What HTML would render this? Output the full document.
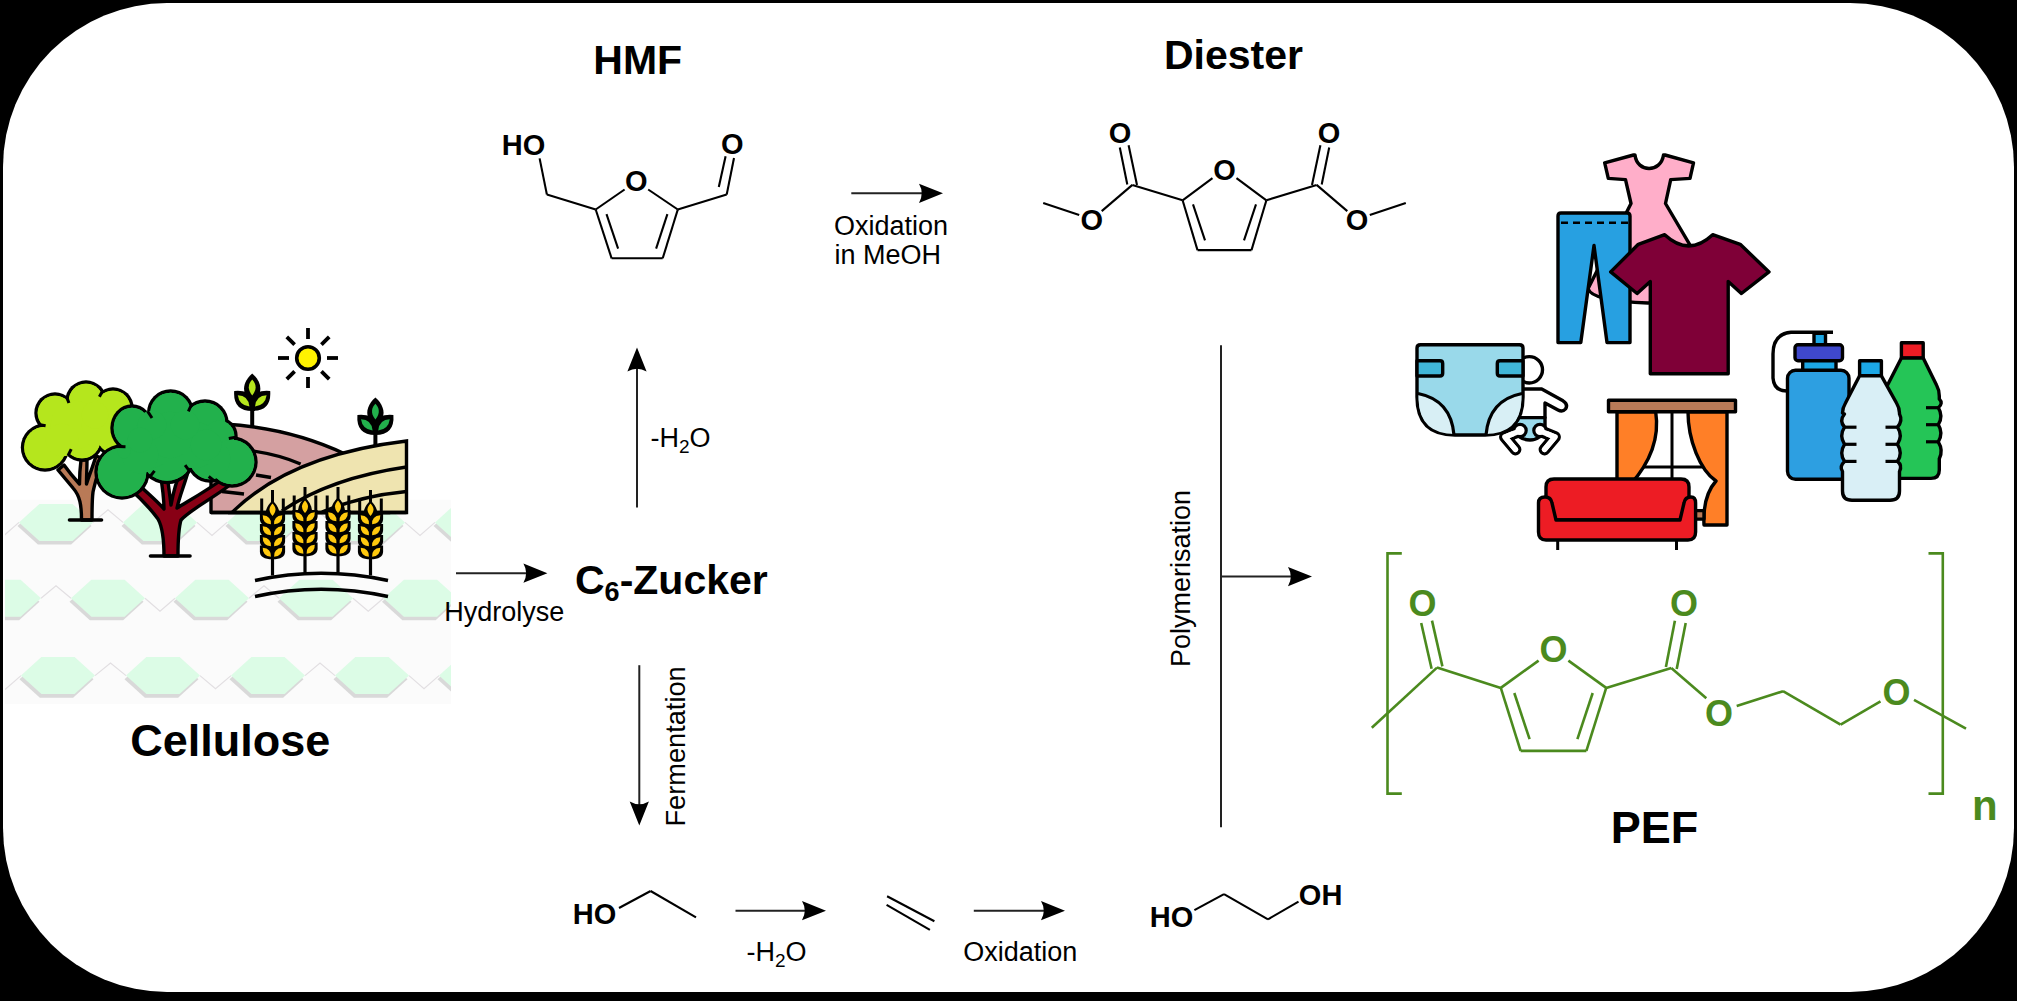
<!DOCTYPE html>
<html><head><meta charset="utf-8"><title>PEF</title>
<style>
html,body{margin:0;padding:0;background:#000;width:2017px;height:1001px;overflow:hidden}
svg{display:block}
text{font-family:"Liberation Sans",sans-serif}
</style></head><body>
<svg width="2017" height="1001" viewBox="0 0 2017 1001">
<rect width="2017" height="1001" fill="#000"/>
<rect x="3" y="3" width="2011" height="989" rx="164" ry="164" fill="#fff"/>
<clipPath id="hc"><rect x="5" y="499.5" width="446" height="204.5"/></clipPath>
<g clip-path="url(#hc)">
<rect x="5" y="499.5" width="446" height="204.5" fill="#fbfbfb"/>
<polyline points="93,522.4 108.0,509.9 123,522.4" fill="none" stroke="#e2dfe2" stroke-width="1.2"/>
<polyline points="197,522.4 212.0,535.4 227,522.4" fill="none" stroke="#e2dfe2" stroke-width="1.2"/>
<polyline points="301,522.4 316.0,509.9 331,522.4" fill="none" stroke="#e2dfe2" stroke-width="1.2"/>
<polyline points="405,522.4 420.0,535.4 435,522.4" fill="none" stroke="#e2dfe2" stroke-width="1.2"/>
<line x1="19" y1="522.4" x2="3" y2="536.4" stroke="#e2dfe2" stroke-width="1.2"/>
<polyline points="41,598.2 56.0,585.7 71,598.2" fill="none" stroke="#e2dfe2" stroke-width="1.2"/>
<polyline points="145,598.2 160.0,611.2 175,598.2" fill="none" stroke="#e2dfe2" stroke-width="1.2"/>
<polyline points="249,598.2 264.0,585.7 279,598.2" fill="none" stroke="#e2dfe2" stroke-width="1.2"/>
<polyline points="353,598.2 368.25,611.2 383.5,598.2" fill="none" stroke="#e2dfe2" stroke-width="1.2"/>
<polyline points="95,675.6 110.5,663.1 126,675.6" fill="none" stroke="#e2dfe2" stroke-width="1.2"/>
<polyline points="200,675.6 215.5,688.6 231,675.6" fill="none" stroke="#e2dfe2" stroke-width="1.2"/>
<polyline points="305,675.6 320.0,663.1 335,675.6" fill="none" stroke="#e2dfe2" stroke-width="1.2"/>
<polyline points="409,675.6 424.0,688.6 439,675.6" fill="none" stroke="#e2dfe2" stroke-width="1.2"/>
<line x1="21" y1="675.6" x2="5" y2="689.6" stroke="#e2dfe2" stroke-width="1.2"/>
<polygon points="17.5,526.0 37.9,507.5 71.1,507.5 91.5,526.0 71.1,544.5 37.9,544.5" fill="#d9d9d9"/>
<polygon points="121.5,526.0 141.9,507.5 175.1,507.5 195.5,526.0 175.1,544.5 141.9,544.5" fill="#d9d9d9"/>
<polygon points="225.5,526.0 245.9,507.5 279.1,507.5 299.5,526.0 279.1,544.5 245.9,544.5" fill="#d9d9d9"/>
<polygon points="329.5,526.0 349.9,507.5 383.1,507.5 403.5,526.0 383.1,544.5 349.9,544.5" fill="#d9d9d9"/>
<polygon points="433.5,526.0 453.9,507.5 487.1,507.5 507.5,526.0 487.1,544.5 453.9,544.5" fill="#d9d9d9"/>
<polygon points="19.0,522.4 39.4,503.9 72.6,503.9 93.0,522.4 72.6,540.9 39.4,540.9" fill="#dcfce6"/>
<polygon points="123.0,522.4 143.4,503.9 176.6,503.9 197.0,522.4 176.6,540.9 143.4,540.9" fill="#dcfce6"/>
<polygon points="227.0,522.4 247.4,503.9 280.6,503.9 301.0,522.4 280.6,540.9 247.4,540.9" fill="#dcfce6"/>
<polygon points="331.0,522.4 351.4,503.9 384.6,503.9 405.0,522.4 384.6,540.9 351.4,540.9" fill="#dcfce6"/>
<polygon points="435.0,522.4 455.4,503.9 488.6,503.9 509.0,522.4 488.6,540.9 455.4,540.9" fill="#dcfce6"/>
<polygon points="-34.5,601.8 -14.1,583.3 19.1,583.3 39.5,601.8 19.1,620.3 -14.1,620.3" fill="#d9d9d9"/>
<polygon points="69.5,601.8 89.9,583.3 123.1,583.3 143.5,601.8 123.1,620.3 89.9,620.3" fill="#d9d9d9"/>
<polygon points="173.5,601.8 193.9,583.3 227.1,583.3 247.5,601.8 227.1,620.3 193.9,620.3" fill="#d9d9d9"/>
<polygon points="277.5,601.8 297.9,583.3 331.1,583.3 351.5,601.8 331.1,620.3 297.9,620.3" fill="#d9d9d9"/>
<polygon points="382.0,601.8 402.4,583.3 435.6,583.3 456.0,601.8 435.6,620.3 402.4,620.3" fill="#d9d9d9"/>
<polygon points="-33.0,598.2 -12.6,579.7 20.6,579.7 41.0,598.2 20.6,616.7 -12.6,616.7" fill="#dcfce6"/>
<polygon points="71.0,598.2 91.4,579.7 124.6,579.7 145.0,598.2 124.6,616.7 91.4,616.7" fill="#dcfce6"/>
<polygon points="175.0,598.2 195.4,579.7 228.6,579.7 249.0,598.2 228.6,616.7 195.4,616.7" fill="#dcfce6"/>
<polygon points="279.0,598.2 299.4,579.7 332.6,579.7 353.0,598.2 332.6,616.7 299.4,616.7" fill="#dcfce6"/>
<polygon points="383.5,598.2 403.9,579.7 437.1,579.7 457.5,598.2 437.1,616.7 403.9,616.7" fill="#dcfce6"/>
<polygon points="19.5,679.2 39.9,660.7 73.1,660.7 93.5,679.2 73.1,697.7 39.9,697.7" fill="#d9d9d9"/>
<polygon points="124.5,679.2 144.9,660.7 178.1,660.7 198.5,679.2 178.1,697.7 144.9,697.7" fill="#d9d9d9"/>
<polygon points="229.5,679.2 249.9,660.7 283.1,660.7 303.5,679.2 283.1,697.7 249.9,697.7" fill="#d9d9d9"/>
<polygon points="333.5,679.2 353.9,660.7 387.1,660.7 407.5,679.2 387.1,697.7 353.9,697.7" fill="#d9d9d9"/>
<polygon points="437.5,679.2 457.9,660.7 491.1,660.7 511.5,679.2 491.1,697.7 457.9,697.7" fill="#d9d9d9"/>
<polygon points="21.0,675.6 41.4,657.1 74.6,657.1 95.0,675.6 74.6,694.1 41.4,694.1" fill="#dcfce6"/>
<polygon points="126.0,675.6 146.4,657.1 179.6,657.1 200.0,675.6 179.6,694.1 146.4,694.1" fill="#dcfce6"/>
<polygon points="231.0,675.6 251.4,657.1 284.6,657.1 305.0,675.6 284.6,694.1 251.4,694.1" fill="#dcfce6"/>
<polygon points="335.0,675.6 355.4,657.1 388.6,657.1 409.0,675.6 388.6,694.1 355.4,694.1" fill="#dcfce6"/>
<polygon points="439.0,675.6 459.4,657.1 492.6,657.1 513.0,675.6 492.6,694.1 459.4,694.1" fill="#dcfce6"/>
</g>
<circle cx="308" cy="358" r="11.3" fill="#fff200" stroke="#000" stroke-width="3.6"/>
<line x1="327.0" y1="358.0" x2="338.0" y2="358.0" stroke="#000" stroke-width="3.8" stroke-linecap="butt"/>
<line x1="321.4" y1="371.4" x2="329.2" y2="379.2" stroke="#000" stroke-width="3.8" stroke-linecap="butt"/>
<line x1="308.0" y1="377.0" x2="308.0" y2="388.0" stroke="#000" stroke-width="3.8" stroke-linecap="butt"/>
<line x1="294.6" y1="371.4" x2="286.8" y2="379.2" stroke="#000" stroke-width="3.8" stroke-linecap="butt"/>
<line x1="289.0" y1="358.0" x2="278.0" y2="358.0" stroke="#000" stroke-width="3.8" stroke-linecap="butt"/>
<line x1="294.6" y1="344.6" x2="286.8" y2="336.8" stroke="#000" stroke-width="3.8" stroke-linecap="butt"/>
<line x1="308.0" y1="339.0" x2="308.0" y2="328.0" stroke="#000" stroke-width="3.8" stroke-linecap="butt"/>
<line x1="321.4" y1="344.6" x2="329.2" y2="336.8" stroke="#000" stroke-width="3.8" stroke-linecap="butt"/>
<line x1="252.2" y1="403.4" x2="252.2" y2="426.0" stroke="#000" stroke-width="4" stroke-linecap="butt"/>
<path d="M252.2,373.4 C259.2,379.4 262.2,387.4 259.2,394.4 L245.2,394.4 C242.2,387.4 245.2,379.4 252.2,373.4 Z" fill="#000"/>
<path d="M234.2,390.9 Q242.2,390.2 247.2,392.4 L257.2,392.4 Q262.2,390.2 270.2,390.9 Q271.7,410.9 252.2,410.9 Q232.7,410.9 234.2,390.9 Z" fill="#000"/>
<path d="M252.2,379.59999999999997 C255.7,383.4 257.7,388.4 252.2,395.4 C246.7,388.4 248.7,383.4 252.2,379.59999999999997 Z" fill="#b5e61d"/>
<path d="M237.79999999999998,395.2 Q248.2,395.4 249.39999999999998,406.4 Q239.2,405.4 237.79999999999998,395.2 Z" fill="#b5e61d"/>
<path d="M266.59999999999997,395.2 Q256.2,395.4 255.0,406.4 Q265.2,405.4 266.59999999999997,395.2 Z" fill="#b5e61d"/>
<line x1="375.4" y1="427.5" x2="375.4" y2="446.0" stroke="#000" stroke-width="4" stroke-linecap="butt"/>
<path d="M375.4,397.5 C382.4,403.5 385.4,411.5 382.4,418.5 L368.4,418.5 C365.4,411.5 368.4,403.5 375.4,397.5 Z" fill="#000"/>
<path d="M357.4,415.0 Q365.4,414.3 370.4,416.5 L380.4,416.5 Q385.4,414.3 393.4,415.0 Q394.9,435.0 375.4,435.0 Q355.9,435.0 357.4,415.0 Z" fill="#000"/>
<path d="M375.4,403.7 C378.9,407.5 380.9,412.5 375.4,419.5 C369.9,412.5 371.9,407.5 375.4,403.7 Z" fill="#22b14c"/>
<path d="M361.0,419.3 Q371.4,419.5 372.59999999999997,430.5 Q362.4,429.5 361.0,419.3 Z" fill="#22b14c"/>
<path d="M389.79999999999995,419.3 Q379.4,419.5 378.2,430.5 Q388.4,429.5 389.79999999999995,419.3 Z" fill="#22b14c"/>
<path d="M211,512.5 L211,434 Q211,424 224,424 Q290,428 345,454 L390,480 L390,512.5 Z" fill="#d4a0a1" stroke="#000" stroke-width="3.4" stroke-linejoin="round"/>
<path d="M253,451 Q280,455 300.6,464" fill="none" stroke="#000" stroke-width="3.4"/>
<path d="M256,475 L271,477.5" fill="none" stroke="#000" stroke-width="3.4"/>
<path d="M222,491.5 L244,494" fill="none" stroke="#000" stroke-width="3.4"/>
<path d="M232,512.5 Q290,455 406.5,441 L406.5,512.5 Z" fill="#efe4b0" stroke="#000" stroke-width="3.4" stroke-linejoin="miter"/>
<path d="M282,511 Q330,478 406.5,467" fill="none" stroke="#000" stroke-width="3.4"/>
<path d="M322,512 Q360,496 406.5,491.5" fill="none" stroke="#000" stroke-width="3.4"/>
<line x1="211.0" y1="512.5" x2="406.5" y2="512.5" stroke="#000" stroke-width="3.4" stroke-linecap="butt"/>
<path d="M81.5,520 C81.5,505 80,496 73,488 C68,482 63,476 58,470 L64,465 C69,472 74,478 79.5,484 C79.5,476 80,468 81,460 L87,460 C87,468 86.5,476 86.5,484 C89,476 93,466 96,456 L102,458 C99,470 95,482 93,492 C92,500 92,510 92,520 Z" fill="#b97a57" stroke="#000" stroke-width="3.4" stroke-linejoin="round"/>
<line x1="69.5" y1="520.0" x2="101.5" y2="520.0" stroke="#000" stroke-width="3.6" stroke-linecap="round"/>
<ellipse cx="86" cy="401" rx="20.7" ry="20.7" fill="#000"/>
<ellipse cx="55" cy="413" rx="20.7" ry="20.7" fill="#000"/>
<ellipse cx="113" cy="408" rx="20.7" ry="20.7" fill="#000"/>
<ellipse cx="45" cy="447.5" rx="24.2" ry="24.2" fill="#000"/>
<ellipse cx="82" cy="440" rx="21.7" ry="21.7" fill="#000"/>
<ellipse cx="115" cy="435" rx="21.7" ry="21.7" fill="#000"/>
<ellipse cx="86" cy="401" rx="17.3" ry="17.3" fill="#b5e61d"/>
<ellipse cx="55" cy="413" rx="17.3" ry="17.3" fill="#b5e61d"/>
<ellipse cx="113" cy="408" rx="17.3" ry="17.3" fill="#b5e61d"/>
<ellipse cx="45" cy="447.5" rx="20.8" ry="20.8" fill="#b5e61d"/>
<ellipse cx="82" cy="440" rx="18.3" ry="18.3" fill="#b5e61d"/>
<ellipse cx="115" cy="435" rx="18.3" ry="18.3" fill="#b5e61d"/>
<ellipse cx="75" cy="425" rx="24.3" ry="24.3" fill="#b5e61d"/>
<ellipse cx="100" cy="425" rx="18.3" ry="18.3" fill="#b5e61d"/>
<ellipse cx="62" cy="440" rx="16.3" ry="16.3" fill="#b5e61d"/>
<ellipse cx="95" cy="415" rx="13.3" ry="13.3" fill="#b5e61d"/>
<ellipse cx="86" cy="401" rx="17.3" ry="17.3" fill="#b5e61d"/>
<ellipse cx="55" cy="413" rx="17.3" ry="17.3" fill="#b5e61d"/>
<ellipse cx="113" cy="408" rx="17.3" ry="17.3" fill="#b5e61d"/>
<ellipse cx="45" cy="447.5" rx="20.8" ry="20.8" fill="#b5e61d"/>
<ellipse cx="82" cy="440" rx="18.3" ry="18.3" fill="#b5e61d"/>
<ellipse cx="115" cy="435" rx="18.3" ry="18.3" fill="#b5e61d"/>
<ellipse cx="75" cy="425" rx="24.3" ry="24.3" fill="#b5e61d"/>
<ellipse cx="100" cy="425" rx="18.3" ry="18.3" fill="#b5e61d"/>
<ellipse cx="62" cy="440" rx="16.3" ry="16.3" fill="#b5e61d"/>
<ellipse cx="95" cy="415" rx="13.3" ry="13.3" fill="#b5e61d"/>
<line x1="38.7" y1="424.6" x2="45.6" y2="425.8" stroke="#000" stroke-width="3" stroke-linecap="butt"/>
<line x1="66.4" y1="396.4" x2="68.9" y2="403.0" stroke="#000" stroke-width="3" stroke-linecap="butt"/>
<line x1="68.1" y1="455.3" x2="71.2" y2="449.1" stroke="#000" stroke-width="3" stroke-linecap="butt"/>
<line x1="102.8" y1="390.6" x2="99.4" y2="396.7" stroke="#000" stroke-width="3" stroke-linecap="butt"/>
<path d="M164,556 C164,540 163,528 158,519 C150,508 140,498 130,489 L136,482 C146,492 156,500 164,509 C164,496 162,484 160,472 L167,472 C168,484 170,496 171,505 C173,494 176,482 181,470 L188,472 C184,486 179,498 177,508 C190,500 208,490 224,478 L230,485 C210,500 190,510 181,520 C178,530 178,542 178,556 Z" fill="#880015" stroke="#000" stroke-width="3.4" stroke-linejoin="round"/>
<line x1="150.5" y1="556.0" x2="190.0" y2="556.0" stroke="#000" stroke-width="3.6" stroke-linecap="round"/>
<ellipse cx="170.6" cy="413" rx="23.7" ry="23.7" fill="#000"/>
<ellipse cx="132" cy="428" rx="21.7" ry="23.7" fill="#000"/>
<ellipse cx="205" cy="423" rx="23.7" ry="23.7" fill="#000"/>
<ellipse cx="219" cy="436" rx="18.7" ry="18.7" fill="#000"/>
<ellipse cx="122" cy="472" rx="27.7" ry="27.7" fill="#000"/>
<ellipse cx="232" cy="462" rx="25.7" ry="25.7" fill="#000"/>
<ellipse cx="167" cy="455" rx="29.2" ry="29.2" fill="#000"/>
<ellipse cx="210" cy="459" rx="23.7" ry="23.7" fill="#000"/>
<ellipse cx="170.6" cy="413" rx="20.3" ry="20.3" fill="#22b14c"/>
<ellipse cx="132" cy="428" rx="18.3" ry="20.3" fill="#22b14c"/>
<ellipse cx="205" cy="423" rx="20.3" ry="20.3" fill="#22b14c"/>
<ellipse cx="219" cy="436" rx="15.3" ry="15.3" fill="#22b14c"/>
<ellipse cx="122" cy="472" rx="24.3" ry="24.3" fill="#22b14c"/>
<ellipse cx="232" cy="462" rx="22.3" ry="22.3" fill="#22b14c"/>
<ellipse cx="167" cy="455" rx="25.8" ry="25.8" fill="#22b14c"/>
<ellipse cx="210" cy="459" rx="20.3" ry="20.3" fill="#22b14c"/>
<ellipse cx="150" cy="445" rx="23.3" ry="23.3" fill="#22b14c"/>
<ellipse cx="195" cy="445" rx="23.3" ry="23.3" fill="#22b14c"/>
<ellipse cx="170" cy="435" rx="23.3" ry="23.3" fill="#22b14c"/>
<ellipse cx="140" cy="455" rx="18.3" ry="18.3" fill="#22b14c"/>
<ellipse cx="206" cy="445" rx="15.3" ry="15.3" fill="#22b14c"/>
<ellipse cx="185" cy="425" rx="14.3" ry="14.3" fill="#22b14c"/>
<ellipse cx="152" cy="425" rx="14.3" ry="14.3" fill="#22b14c"/>
<ellipse cx="140" cy="440" rx="12.3" ry="12.3" fill="#22b14c"/>
<ellipse cx="124" cy="452" rx="6.3" ry="6.3" fill="#22b14c"/>
<ellipse cx="170.6" cy="413" rx="20.3" ry="20.3" fill="#22b14c"/>
<ellipse cx="132" cy="428" rx="18.3" ry="20.3" fill="#22b14c"/>
<ellipse cx="205" cy="423" rx="20.3" ry="20.3" fill="#22b14c"/>
<ellipse cx="219" cy="436" rx="15.3" ry="15.3" fill="#22b14c"/>
<ellipse cx="122" cy="472" rx="24.3" ry="24.3" fill="#22b14c"/>
<ellipse cx="232" cy="462" rx="22.3" ry="22.3" fill="#22b14c"/>
<ellipse cx="167" cy="455" rx="25.8" ry="25.8" fill="#22b14c"/>
<ellipse cx="210" cy="459" rx="20.3" ry="20.3" fill="#22b14c"/>
<ellipse cx="150" cy="445" rx="23.3" ry="23.3" fill="#22b14c"/>
<ellipse cx="195" cy="445" rx="23.3" ry="23.3" fill="#22b14c"/>
<ellipse cx="170" cy="435" rx="23.3" ry="23.3" fill="#22b14c"/>
<ellipse cx="140" cy="455" rx="18.3" ry="18.3" fill="#22b14c"/>
<ellipse cx="206" cy="445" rx="15.3" ry="15.3" fill="#22b14c"/>
<ellipse cx="185" cy="425" rx="14.3" ry="14.3" fill="#22b14c"/>
<ellipse cx="152" cy="425" rx="14.3" ry="14.3" fill="#22b14c"/>
<ellipse cx="140" cy="440" rx="12.3" ry="12.3" fill="#22b14c"/>
<ellipse cx="124" cy="452" rx="6.3" ry="6.3" fill="#22b14c"/>
<line x1="147.6" y1="411.3" x2="152.0" y2="418.0" stroke="#000" stroke-width="3" stroke-linecap="butt"/>
<line x1="191.7" y1="404.0" x2="188.4" y2="411.3" stroke="#000" stroke-width="3" stroke-linecap="butt"/>
<line x1="236.7" y1="437.1" x2="228.8" y2="438.4" stroke="#000" stroke-width="3" stroke-linecap="butt"/>
<line x1="117.5" y1="446.5" x2="125.5" y2="446.7" stroke="#000" stroke-width="3" stroke-linecap="butt"/>
<line x1="149.6" y1="477.2" x2="154.5" y2="470.9" stroke="#000" stroke-width="3" stroke-linecap="butt"/>
<line x1="189.9" y1="471.6" x2="185.1" y2="465.2" stroke="#000" stroke-width="3" stroke-linecap="butt"/>
<line x1="215.0" y1="481.4" x2="208.7" y2="476.5" stroke="#000" stroke-width="3" stroke-linecap="butt"/>
<g transform="translate(0 0)">
<line x1="272.5" y1="490.0" x2="272.5" y2="506.0" stroke="#000" stroke-width="3" stroke-linecap="butt"/>
<line x1="261.7" y1="498.5" x2="261.7" y2="516.0" stroke="#000" stroke-width="3" stroke-linecap="butt"/>
<line x1="283.3" y1="498.5" x2="283.3" y2="516.0" stroke="#000" stroke-width="3" stroke-linecap="butt"/>
<line x1="272.5" y1="556.0" x2="272.5" y2="575.5" stroke="#000" stroke-width="3.2" stroke-linecap="butt"/>
<path d="M272.5,500.5 C277.5,505 280.0,510 279.5,517 L265.5,517 C265.0,510 267.5,505 272.5,500.5 Z" fill="#000"/>
<path d="M259.9,513 L285.1,513 L285.1,519 Q285.1,526.8 272.5,526.8 Q259.9,526.8 259.9,519 Z" fill="#000"/>
<path d="M259.9,524 L285.1,524 L285.1,530 Q285.1,537.8 272.5,537.8 Q259.9,537.8 259.9,530 Z" fill="#000"/>
<path d="M259.9,535 L285.1,535 L285.1,541 Q285.1,548.8 272.5,548.8 Q259.9,548.8 259.9,541 Z" fill="#000"/>
<path d="M259.9,545.5 L285.1,545.5 L285.1,551.5 Q285.1,559.3 272.5,559.3 Q259.9,559.3 259.9,551.5 Z" fill="#000"/>
<path d="M272.5,503.5 C276.0,507 277.0,511 272.5,516 C268.0,511 269.0,507 272.5,503.5 Z" fill="#ffc90e"/>
<path d="M262.7,515.2 Q271.5,516 270.9,524.3 Q262.5,523.5 262.7,515.2 Z" fill="#ffc90e"/>
<path d="M282.3,515.2 Q273.5,516 274.1,524.3 Q282.5,523.5 282.3,515.2 Z" fill="#ffc90e"/>
<path d="M262.7,526.2 Q271.5,527 270.9,535.3 Q262.5,534.5 262.7,526.2 Z" fill="#ffc90e"/>
<path d="M282.3,526.2 Q273.5,527 274.1,535.3 Q282.5,534.5 282.3,526.2 Z" fill="#ffc90e"/>
<path d="M262.7,537.2 Q271.5,538 270.9,546.3 Q262.5,545.5 262.7,537.2 Z" fill="#ffc90e"/>
<path d="M282.3,537.2 Q273.5,538 274.1,546.3 Q282.5,545.5 282.3,537.2 Z" fill="#ffc90e"/>
<path d="M262.7,547.7 Q271.5,548.5 270.9,556.8 Q262.5,556.0 262.7,547.7 Z" fill="#ffc90e"/>
<path d="M282.3,547.7 Q273.5,548.5 274.1,556.8 Q282.5,556.0 282.3,547.7 Z" fill="#ffc90e"/>
</g>
<g transform="translate(0 -3)">
<line x1="305.0" y1="490.0" x2="305.0" y2="506.0" stroke="#000" stroke-width="3" stroke-linecap="butt"/>
<line x1="294.2" y1="498.5" x2="294.2" y2="516.0" stroke="#000" stroke-width="3" stroke-linecap="butt"/>
<line x1="315.8" y1="498.5" x2="315.8" y2="516.0" stroke="#000" stroke-width="3" stroke-linecap="butt"/>
<line x1="305.0" y1="556.0" x2="305.0" y2="575.5" stroke="#000" stroke-width="3.2" stroke-linecap="butt"/>
<path d="M305,500.5 C310,505 312.5,510 312,517 L298,517 C297.5,510 300,505 305,500.5 Z" fill="#000"/>
<path d="M292.4,513 L317.6,513 L317.6,519 Q317.6,526.8 305,526.8 Q292.4,526.8 292.4,519 Z" fill="#000"/>
<path d="M292.4,524 L317.6,524 L317.6,530 Q317.6,537.8 305,537.8 Q292.4,537.8 292.4,530 Z" fill="#000"/>
<path d="M292.4,535 L317.6,535 L317.6,541 Q317.6,548.8 305,548.8 Q292.4,548.8 292.4,541 Z" fill="#000"/>
<path d="M292.4,545.5 L317.6,545.5 L317.6,551.5 Q317.6,559.3 305,559.3 Q292.4,559.3 292.4,551.5 Z" fill="#000"/>
<path d="M305,503.5 C308.5,507 309.5,511 305,516 C300.5,511 301.5,507 305,503.5 Z" fill="#ffc90e"/>
<path d="M295.2,515.2 Q304,516 303.4,524.3 Q295,523.5 295.2,515.2 Z" fill="#ffc90e"/>
<path d="M314.8,515.2 Q306,516 306.6,524.3 Q315,523.5 314.8,515.2 Z" fill="#ffc90e"/>
<path d="M295.2,526.2 Q304,527 303.4,535.3 Q295,534.5 295.2,526.2 Z" fill="#ffc90e"/>
<path d="M314.8,526.2 Q306,527 306.6,535.3 Q315,534.5 314.8,526.2 Z" fill="#ffc90e"/>
<path d="M295.2,537.2 Q304,538 303.4,546.3 Q295,545.5 295.2,537.2 Z" fill="#ffc90e"/>
<path d="M314.8,537.2 Q306,538 306.6,546.3 Q315,545.5 314.8,537.2 Z" fill="#ffc90e"/>
<path d="M295.2,547.7 Q304,548.5 303.4,556.8 Q295,556.0 295.2,547.7 Z" fill="#ffc90e"/>
<path d="M314.8,547.7 Q306,548.5 306.6,556.8 Q315,556.0 314.8,547.7 Z" fill="#ffc90e"/>
</g>
<g transform="translate(0 -3)">
<line x1="338.0" y1="490.0" x2="338.0" y2="506.0" stroke="#000" stroke-width="3" stroke-linecap="butt"/>
<line x1="327.2" y1="498.5" x2="327.2" y2="516.0" stroke="#000" stroke-width="3" stroke-linecap="butt"/>
<line x1="348.8" y1="498.5" x2="348.8" y2="516.0" stroke="#000" stroke-width="3" stroke-linecap="butt"/>
<line x1="338.0" y1="556.0" x2="338.0" y2="575.5" stroke="#000" stroke-width="3.2" stroke-linecap="butt"/>
<path d="M338,500.5 C343,505 345.5,510 345,517 L331,517 C330.5,510 333,505 338,500.5 Z" fill="#000"/>
<path d="M325.4,513 L350.6,513 L350.6,519 Q350.6,526.8 338,526.8 Q325.4,526.8 325.4,519 Z" fill="#000"/>
<path d="M325.4,524 L350.6,524 L350.6,530 Q350.6,537.8 338,537.8 Q325.4,537.8 325.4,530 Z" fill="#000"/>
<path d="M325.4,535 L350.6,535 L350.6,541 Q350.6,548.8 338,548.8 Q325.4,548.8 325.4,541 Z" fill="#000"/>
<path d="M325.4,545.5 L350.6,545.5 L350.6,551.5 Q350.6,559.3 338,559.3 Q325.4,559.3 325.4,551.5 Z" fill="#000"/>
<path d="M338,503.5 C341.5,507 342.5,511 338,516 C333.5,511 334.5,507 338,503.5 Z" fill="#ffc90e"/>
<path d="M328.2,515.2 Q337,516 336.4,524.3 Q328,523.5 328.2,515.2 Z" fill="#ffc90e"/>
<path d="M347.8,515.2 Q339,516 339.6,524.3 Q348,523.5 347.8,515.2 Z" fill="#ffc90e"/>
<path d="M328.2,526.2 Q337,527 336.4,535.3 Q328,534.5 328.2,526.2 Z" fill="#ffc90e"/>
<path d="M347.8,526.2 Q339,527 339.6,535.3 Q348,534.5 347.8,526.2 Z" fill="#ffc90e"/>
<path d="M328.2,537.2 Q337,538 336.4,546.3 Q328,545.5 328.2,537.2 Z" fill="#ffc90e"/>
<path d="M347.8,537.2 Q339,538 339.6,546.3 Q348,545.5 347.8,537.2 Z" fill="#ffc90e"/>
<path d="M328.2,547.7 Q337,548.5 336.4,556.8 Q328,556.0 328.2,547.7 Z" fill="#ffc90e"/>
<path d="M347.8,547.7 Q339,548.5 339.6,556.8 Q348,556.0 347.8,547.7 Z" fill="#ffc90e"/>
</g>
<g transform="translate(0 0)">
<line x1="370.5" y1="490.0" x2="370.5" y2="506.0" stroke="#000" stroke-width="3" stroke-linecap="butt"/>
<line x1="359.7" y1="498.5" x2="359.7" y2="516.0" stroke="#000" stroke-width="3" stroke-linecap="butt"/>
<line x1="381.3" y1="498.5" x2="381.3" y2="516.0" stroke="#000" stroke-width="3" stroke-linecap="butt"/>
<line x1="370.5" y1="556.0" x2="370.5" y2="575.5" stroke="#000" stroke-width="3.2" stroke-linecap="butt"/>
<path d="M370.5,500.5 C375.5,505 378.0,510 377.5,517 L363.5,517 C363.0,510 365.5,505 370.5,500.5 Z" fill="#000"/>
<path d="M357.9,513 L383.1,513 L383.1,519 Q383.1,526.8 370.5,526.8 Q357.9,526.8 357.9,519 Z" fill="#000"/>
<path d="M357.9,524 L383.1,524 L383.1,530 Q383.1,537.8 370.5,537.8 Q357.9,537.8 357.9,530 Z" fill="#000"/>
<path d="M357.9,535 L383.1,535 L383.1,541 Q383.1,548.8 370.5,548.8 Q357.9,548.8 357.9,541 Z" fill="#000"/>
<path d="M357.9,545.5 L383.1,545.5 L383.1,551.5 Q383.1,559.3 370.5,559.3 Q357.9,559.3 357.9,551.5 Z" fill="#000"/>
<path d="M370.5,503.5 C374.0,507 375.0,511 370.5,516 C366.0,511 367.0,507 370.5,503.5 Z" fill="#ffc90e"/>
<path d="M360.7,515.2 Q369.5,516 368.9,524.3 Q360.5,523.5 360.7,515.2 Z" fill="#ffc90e"/>
<path d="M380.3,515.2 Q371.5,516 372.1,524.3 Q380.5,523.5 380.3,515.2 Z" fill="#ffc90e"/>
<path d="M360.7,526.2 Q369.5,527 368.9,535.3 Q360.5,534.5 360.7,526.2 Z" fill="#ffc90e"/>
<path d="M380.3,526.2 Q371.5,527 372.1,535.3 Q380.5,534.5 380.3,526.2 Z" fill="#ffc90e"/>
<path d="M360.7,537.2 Q369.5,538 368.9,546.3 Q360.5,545.5 360.7,537.2 Z" fill="#ffc90e"/>
<path d="M380.3,537.2 Q371.5,538 372.1,546.3 Q380.5,545.5 380.3,537.2 Z" fill="#ffc90e"/>
<path d="M360.7,547.7 Q369.5,548.5 368.9,556.8 Q360.5,556.0 360.7,547.7 Z" fill="#ffc90e"/>
<path d="M380.3,547.7 Q371.5,548.5 372.1,556.8 Q380.5,556.0 380.3,547.7 Z" fill="#ffc90e"/>
</g>
<path d="M255,580.5 Q321,566 388,580.5" fill="none" stroke="#000" stroke-width="3.4"/>
<path d="M255,596.5 Q321,582 388,596.5" fill="none" stroke="#000" stroke-width="3.4"/>
<path d="M1604.7,162.8 L1633.5,155 L1635,155 C1637,173 1661,173 1663.5,155 L1665,155 L1693.5,162.8 L1690,178.4 L1670.7,179.6 L1665.5,203.5 L1700,262 Q1712,300 1648,303 Q1592,301 1588,288.7 L1631,203.5 L1625.5,179.6 L1608.3,178.4 Z" fill="#ffaec9" stroke="#000" stroke-width="3.4" stroke-linejoin="round"/>
<path d="M1558,216 Q1558,213 1561,213 L1627,213 Q1630,213 1630,216 L1630,342.6 L1607,342.6 L1594,245.5 L1580.8,342.6 L1558,342.6 Z" fill="#27a0e1" stroke="#000" stroke-width="3.4" stroke-linejoin="round"/>
<line x1="1561" y1="222.7" x2="1628" y2="222.7" stroke="#000" stroke-width="2.6" stroke-dasharray="7 5"/>
<path d="M1664.7,234.7 Q1688.7,257 1712.7,234.7 L1740.2,244.3 L1769,271.9 L1741.4,293.5 L1728.2,281.5 L1728.2,373.8 L1650.3,373.8 L1650.3,281.5 L1637.1,293.5 L1610.7,271.9 L1638.3,244.3 Z" fill="#7f0037" stroke="#000" stroke-width="3.4" stroke-linejoin="round"/>
<circle cx="1529.3" cy="369.8" r="13.2" fill="#fff" stroke="#000" stroke-width="3.4" stroke-linejoin="round"/>
<path d="M1514,389 L1541.7,389 L1563,400.8 Q1568.5,404.5 1565.5,409 Q1562.5,412.5 1558,410 L1545,403 L1545,417.6 L1514,417.6 Z" fill="#fff" stroke="#000" stroke-width="3.4" stroke-linejoin="round"/>
<path d="M1514,417.6 L1545,417.6 L1545,428 Q1541,440 1530,440 Q1519,440 1514,430 Z" fill="#99d9ea" stroke="#000" stroke-width="3.4" stroke-linejoin="round"/>
<path d="M1417,348 Q1417,344.7 1420.5,344.7 L1519.5,344.7 Q1523,344.7 1523,348 L1523,397 Q1523,435 1485,435 L1455,435 Q1417,435 1417,397 Z" fill="#99d9ea" stroke="#000" stroke-width="3.4" stroke-linejoin="round"/>
<path d="M1418.5,395 Q1450,402 1454,434 L1455,434 Q1420,434 1418.5,400 Z" fill="#d8eff5"/>
<path d="M1521.5,395 Q1490,402 1486,434 L1485,434 Q1520,434 1521.5,400 Z" fill="#d8eff5"/>
<path d="M1418,393.5 Q1451,400 1454,435" fill="none" stroke="#000" stroke-width="3.2"/>
<path d="M1522,393.5 Q1489,400 1486,435" fill="none" stroke="#000" stroke-width="3.2"/>
<path d="M1417,360.8 L1440,360.8 Q1442.7,360.8 1442.7,363.5 L1442.7,373.3 Q1442.7,376 1440,376 L1417,376 Z" fill="#41b6d7" stroke="#000" stroke-width="3.4" stroke-linejoin="round"/>
<path d="M1523,360.8 L1500,360.8 Q1497.3,360.8 1497.3,363.5 L1497.3,373.3 Q1497.3,376 1500,376 L1523,376 Z" fill="#41b6d7" stroke="#000" stroke-width="3.4" stroke-linejoin="round"/>
<polyline points="1521,430.5 1505,437 1515.5,449.5" fill="none" stroke="#000" stroke-width="11.8" stroke-linejoin="round" stroke-linecap="round"/>
<polyline points="1521,430.5 1505,437 1515.5,449.5" fill="none" stroke="#fff" stroke-width="5.2" stroke-linejoin="round" stroke-linecap="round"/>
<polyline points="1539,430.5 1555,437 1544.5,449.5" fill="none" stroke="#000" stroke-width="11.8" stroke-linejoin="round" stroke-linecap="round"/>
<polyline points="1539,430.5 1555,437 1544.5,449.5" fill="none" stroke="#fff" stroke-width="5.2" stroke-linejoin="round" stroke-linecap="round"/>
<circle cx="1520" cy="430.5" r="6.2" fill="#fff" stroke="#000" stroke-width="3.2"/>
<circle cx="1540" cy="430.5" r="6.2" fill="#fff" stroke="#000" stroke-width="3.2"/>
<polyline points="1521,430.5 1505,437 1515.5,449.5" fill="none" stroke="#fff" stroke-width="5.2" stroke-linejoin="round" stroke-linecap="round"/>
<polyline points="1539,430.5 1555,437 1544.5,449.5" fill="none" stroke="#fff" stroke-width="5.2" stroke-linejoin="round" stroke-linecap="round"/>
<rect x="1617" y="411.7" width="110" height="70" fill="#fff"/>
<line x1="1672.0" y1="411.7" x2="1672.0" y2="480.0" stroke="#000" stroke-width="3" stroke-linecap="butt"/>
<line x1="1640.0" y1="467.0" x2="1705.0" y2="467.0" stroke="#000" stroke-width="3" stroke-linecap="butt"/>
<path d="M1617,411.7 L1655.7,411.7 C1660,440 1648,465 1630,485 L1617,485 Z" fill="#ff7f27" stroke="#000" stroke-width="3.4" stroke-linejoin="round"/>
<path d="M1688,411.7 L1727,411.7 L1727,525 L1704,525 C1703,505 1708,490 1716,481 C1700,470 1688,440 1688,411.7 Z" fill="#ff7f27" stroke="#000" stroke-width="3.4" stroke-linejoin="round"/>
<rect x="1608.5" y="400.2" width="127" height="11.5" fill="#b97a57" stroke="#000" stroke-width="3.4" stroke-linejoin="round"/>
<rect x="1695" y="510.6" width="9" height="8.5" fill="#b97a57" stroke="#000" stroke-width="3.4" stroke-linejoin="round"/>
<path d="M1546,520 L1546,487 Q1546,479 1554,479 L1681,479 Q1689,479 1689,487 L1689,520 Z" fill="#ed1c24" stroke="#000" stroke-width="3.4" stroke-linejoin="round"/>
<path d="M1538.5,503 Q1538.5,497 1545,497 Q1551,497 1552,503 L1556,520 L1680,520 L1684,503 Q1685,497 1691,497 Q1695.6,497 1695.6,503 L1695.6,532 Q1695.6,540 1688,540 L1546,540 Q1538.5,540 1538.5,532 Z" fill="#ed1c24" stroke="#000" stroke-width="3.4" stroke-linejoin="round"/>
<line x1="1557.7" y1="540.0" x2="1557.7" y2="550.0" stroke="#000" stroke-width="3" stroke-linecap="butt"/>
<line x1="1676.5" y1="540.0" x2="1676.5" y2="550.0" stroke="#000" stroke-width="3" stroke-linecap="butt"/>
<path d="M1833,332.3 L1791,332.3 Q1773,334 1773,354 L1773,378 Q1774,391 1787,391" fill="none" stroke="#000" stroke-width="3.4"/>
<rect x="1814" y="333.3" width="11.5" height="12" fill="#1ca8e6" stroke="#000" stroke-width="3.4" stroke-linejoin="round"/>
<rect x="1802.7" y="358" width="33.3" height="14" fill="#1ca8e6" stroke="#000" stroke-width="3.4" stroke-linejoin="round"/>
<rect x="1795" y="344.7" width="47.5" height="16" rx="3" fill="#3f48cc" stroke="#000" stroke-width="3.4" stroke-linejoin="round"/>
<rect x="1787.5" y="370.3" width="61.5" height="109" rx="8" fill="#2d9fe1" stroke="#000" stroke-width="3.4" stroke-linejoin="round"/>
<rect x="1901.4" y="342.8" width="21.8" height="15.5" fill="#ed1c24" stroke="#000" stroke-width="3.4" stroke-linejoin="round"/>
<path d="M1901.4,358 L1923.2,358 L1936.5,385 Q1939.3,390 1939.3,396 L1939.3,399 Q1943.5,403.4 1938.3,407.7 Q1943.5,416.2 1938.3,424.7 Q1943.5,433.2 1938.3,441.8 Q1943.5,450.3 1939.3,458.8 L1939.3,470 Q1939.3,478.4 1931,478.4 L1885,478.4 L1885,390 Z" fill="#25c557" stroke="#000" stroke-width="3.4" stroke-linejoin="round"/>
<line x1="1926.0" y1="407.7" x2="1939.0" y2="407.7" stroke="#000" stroke-width="3.2" stroke-linecap="butt"/>
<line x1="1926.0" y1="424.7" x2="1939.0" y2="424.7" stroke="#000" stroke-width="3.2" stroke-linecap="butt"/>
<line x1="1926.0" y1="441.8" x2="1939.0" y2="441.8" stroke="#000" stroke-width="3.2" stroke-linecap="butt"/>
<rect x="1859.6" y="360.8" width="21.8" height="15" fill="#1ca8e6" stroke="#000" stroke-width="3.4" stroke-linejoin="round"/>
<path d="M1859.6,375.8 L1881.4,375.8 L1896.5,403 Q1899.5,408 1899.5,413 L1899.5,414 Q1903,420.6 1897.5,427.2 Q1903,435.8 1897.5,444.3 Q1903,452.9 1897.5,461.4 Q1902.5,465.4 1899.5,471.4 L1899.5,491 Q1899.5,500.3 1890,500.3 L1852,500.3 Q1842.5,500.3 1842.5,491 L1842.5,471.4 Q1839,466.4 1844.5,461.4 Q1839,452.9 1844.5,444.3 Q1839,435.8 1844.5,427.2 Q1839,420.6 1844.5,414 L1842.5,413 Q1842.5,408 1845.5,403 Z" fill="#d9eff6" stroke="#000" stroke-width="3.4" stroke-linejoin="round"/>
<line x1="1844.0" y1="427.2" x2="1856.5" y2="427.2" stroke="#000" stroke-width="3.2" stroke-linecap="butt"/>
<line x1="1885.5" y1="427.2" x2="1898.0" y2="427.2" stroke="#000" stroke-width="3.2" stroke-linecap="butt"/>
<line x1="1844.0" y1="444.3" x2="1856.5" y2="444.3" stroke="#000" stroke-width="3.2" stroke-linecap="butt"/>
<line x1="1885.5" y1="444.3" x2="1898.0" y2="444.3" stroke="#000" stroke-width="3.2" stroke-linecap="butt"/>
<line x1="1844.0" y1="461.4" x2="1856.5" y2="461.4" stroke="#000" stroke-width="3.2" stroke-linecap="butt"/>
<line x1="1885.5" y1="461.4" x2="1898.0" y2="461.4" stroke="#000" stroke-width="3.2" stroke-linecap="butt"/>
<text x="523.6" y="155.4" font-size="29" font-weight="bold" text-anchor="middle" fill="#000" >HO</text>
<line x1="539.6" y1="158.4" x2="546.9" y2="194.6" stroke="#000" stroke-width="2.1" stroke-linecap="butt"/>
<line x1="546.9" y1="194.6" x2="595.7" y2="209.5" stroke="#000" stroke-width="2.1" stroke-linecap="butt"/>
<line x1="595.7" y1="209.5" x2="624.6" y2="189.5" stroke="#000" stroke-width="2.1" stroke-linecap="butt"/>
<line x1="648.2" y1="189.5" x2="677.8" y2="209.5" stroke="#000" stroke-width="2.1" stroke-linecap="butt"/>
<line x1="595.7" y1="209.5" x2="611.6" y2="258.3" stroke="#000" stroke-width="2.1" stroke-linecap="butt"/>
<line x1="611.6" y1="258.3" x2="662.7" y2="258.3" stroke="#000" stroke-width="2.1" stroke-linecap="butt"/>
<line x1="662.7" y1="258.3" x2="677.8" y2="209.5" stroke="#000" stroke-width="2.1" stroke-linecap="butt"/>
<line x1="606.5" y1="214.1" x2="618.1" y2="248.6" stroke="#000" stroke-width="2.1" stroke-linecap="butt"/>
<line x1="667.4" y1="214.1" x2="656.1" y2="248.6" stroke="#000" stroke-width="2.1" stroke-linecap="butt"/>
<line x1="677.8" y1="209.5" x2="726.7" y2="194.6" stroke="#000" stroke-width="2.1" stroke-linecap="butt"/>
<line x1="726.7" y1="194.6" x2="734.0" y2="158.0" stroke="#000" stroke-width="2.1" stroke-linecap="butt"/>
<line x1="718.8" y1="186.9" x2="725.6" y2="156.2" stroke="#000" stroke-width="2.1" stroke-linecap="butt"/>
<text x="636.2" y="191.1" font-size="29" font-weight="bold" text-anchor="middle" fill="#000" >O</text>
<text x="732.2" y="153.9" font-size="29" font-weight="bold" text-anchor="middle" fill="#000" >O</text>
<line x1="1043.2" y1="202.9" x2="1079.2" y2="214.9" stroke="#000" stroke-width="2.1" stroke-linecap="butt"/>
<line x1="1405.8" y1="202.9" x2="1369.8" y2="214.9" stroke="#000" stroke-width="2.1" stroke-linecap="butt"/>
<line x1="1101.7" y1="211.1" x2="1132.4" y2="184.9" stroke="#000" stroke-width="2.1" stroke-linecap="butt"/>
<line x1="1347.3" y1="211.1" x2="1316.6" y2="184.9" stroke="#000" stroke-width="2.1" stroke-linecap="butt"/>
<line x1="1137.0" y1="185.0" x2="1128.6" y2="145.2" stroke="#000" stroke-width="2.1" stroke-linecap="butt"/>
<line x1="1312.0" y1="185.0" x2="1320.4" y2="145.2" stroke="#000" stroke-width="2.1" stroke-linecap="butt"/>
<line x1="1127.3" y1="184.5" x2="1119.8" y2="147.5" stroke="#000" stroke-width="2.1" stroke-linecap="butt"/>
<line x1="1321.7" y1="184.5" x2="1329.2" y2="147.5" stroke="#000" stroke-width="2.1" stroke-linecap="butt"/>
<line x1="1132.4" y1="184.9" x2="1182.6" y2="200.3" stroke="#000" stroke-width="2.1" stroke-linecap="butt"/>
<line x1="1316.6" y1="184.9" x2="1266.4" y2="200.3" stroke="#000" stroke-width="2.1" stroke-linecap="butt"/>
<line x1="1182.6" y1="200.3" x2="1212.5" y2="178.2" stroke="#000" stroke-width="2.1" stroke-linecap="butt"/>
<line x1="1266.4" y1="200.3" x2="1236.5" y2="178.2" stroke="#000" stroke-width="2.1" stroke-linecap="butt"/>
<line x1="1182.6" y1="200.3" x2="1197.5" y2="250.1" stroke="#000" stroke-width="2.1" stroke-linecap="butt"/>
<line x1="1266.4" y1="200.3" x2="1251.5" y2="250.1" stroke="#000" stroke-width="2.1" stroke-linecap="butt"/>
<line x1="1193.0" y1="204.4" x2="1205.0" y2="240.3" stroke="#000" stroke-width="2.1" stroke-linecap="butt"/>
<line x1="1256.0" y1="204.4" x2="1244.0" y2="240.3" stroke="#000" stroke-width="2.1" stroke-linecap="butt"/>
<line x1="1197.5" y1="250.1" x2="1251.5" y2="250.1" stroke="#000" stroke-width="2.1" stroke-linecap="butt"/>
<text x="1091.9" y="230.4" font-size="29" font-weight="bold" text-anchor="middle" fill="#000" >O</text>
<text x="1357.1" y="230.4" font-size="29" font-weight="bold" text-anchor="middle" fill="#000" >O</text>
<text x="1120.0" y="143.4" font-size="29" font-weight="bold" text-anchor="middle" fill="#000" >O</text>
<text x="1329.0" y="143.4" font-size="29" font-weight="bold" text-anchor="middle" fill="#000" >O</text>
<text x="1224.5" y="180.4" font-size="29" font-weight="bold" text-anchor="middle" fill="#000" >O</text>
<text x="594.5" y="923.9" font-size="29" font-weight="bold" text-anchor="middle" fill="#000" >HO</text>
<line x1="619.0" y1="908.0" x2="650.6" y2="891.0" stroke="#000" stroke-width="2.1" stroke-linecap="butt"/>
<line x1="650.6" y1="891.0" x2="696.0" y2="917.3" stroke="#000" stroke-width="2.1" stroke-linecap="butt"/>
<line x1="887.1" y1="896.3" x2="934.4" y2="921.2" stroke="#000" stroke-width="2.1" stroke-linecap="butt"/>
<line x1="886.6" y1="904.9" x2="929.9" y2="929.9" stroke="#000" stroke-width="2.1" stroke-linecap="butt"/>
<text x="1171.5" y="926.7" font-size="29" font-weight="bold" text-anchor="middle" fill="#000" >HO</text>
<line x1="1194.4" y1="910.2" x2="1224.0" y2="894.2" stroke="#000" stroke-width="2.1" stroke-linecap="butt"/>
<line x1="1224.0" y1="894.2" x2="1268.0" y2="919.3" stroke="#000" stroke-width="2.1" stroke-linecap="butt"/>
<line x1="1268.0" y1="919.3" x2="1298.5" y2="901.6" stroke="#000" stroke-width="2.1" stroke-linecap="butt"/>
<text x="1320.6" y="905.0" font-size="29" font-weight="bold" text-anchor="middle" fill="#000" >OH</text>
<line x1="1371.8" y1="727.8" x2="1437.0" y2="667.6" stroke="#4b8a1e" stroke-width="2.6" stroke-linecap="butt"/>
<line x1="1431.6" y1="668.8" x2="1421.2" y2="623.0" stroke="#4b8a1e" stroke-width="2.6" stroke-linecap="butt"/>
<line x1="1442.4" y1="666.4" x2="1432.0" y2="620.6" stroke="#4b8a1e" stroke-width="2.6" stroke-linecap="butt"/>
<line x1="1437.0" y1="667.6" x2="1500.8" y2="687.9" stroke="#4b8a1e" stroke-width="2.6" stroke-linecap="butt"/>
<line x1="1500.8" y1="687.9" x2="1538.6" y2="660.6" stroke="#4b8a1e" stroke-width="2.6" stroke-linecap="butt"/>
<line x1="1568.4" y1="660.6" x2="1606.2" y2="687.9" stroke="#4b8a1e" stroke-width="2.6" stroke-linecap="butt"/>
<line x1="1500.8" y1="687.9" x2="1520.6" y2="750.9" stroke="#4b8a1e" stroke-width="2.6" stroke-linecap="butt"/>
<line x1="1520.6" y1="750.9" x2="1586.4" y2="750.9" stroke="#4b8a1e" stroke-width="2.6" stroke-linecap="butt"/>
<line x1="1586.4" y1="750.9" x2="1606.2" y2="687.9" stroke="#4b8a1e" stroke-width="2.6" stroke-linecap="butt"/>
<line x1="1514.3" y1="693.0" x2="1529.6" y2="739.2" stroke="#4b8a1e" stroke-width="2.6" stroke-linecap="butt"/>
<line x1="1592.7" y1="693.0" x2="1577.4" y2="739.2" stroke="#4b8a1e" stroke-width="2.6" stroke-linecap="butt"/>
<line x1="1606.2" y1="687.9" x2="1671.3" y2="668.0" stroke="#4b8a1e" stroke-width="2.6" stroke-linecap="butt"/>
<line x1="1665.9" y1="667.0" x2="1674.9" y2="620.8" stroke="#4b8a1e" stroke-width="2.6" stroke-linecap="butt"/>
<line x1="1676.7" y1="669.0" x2="1685.7" y2="622.9" stroke="#4b8a1e" stroke-width="2.6" stroke-linecap="butt"/>
<line x1="1671.3" y1="668.0" x2="1706.3" y2="698.2" stroke="#4b8a1e" stroke-width="2.6" stroke-linecap="butt"/>
<line x1="1736.7" y1="706.0" x2="1783.0" y2="691.2" stroke="#4b8a1e" stroke-width="2.6" stroke-linecap="butt"/>
<line x1="1783.0" y1="691.2" x2="1840.6" y2="724.7" stroke="#4b8a1e" stroke-width="2.6" stroke-linecap="butt"/>
<line x1="1840.6" y1="724.7" x2="1880.5" y2="701.4" stroke="#4b8a1e" stroke-width="2.6" stroke-linecap="butt"/>
<line x1="1914.0" y1="699.8" x2="1966.0" y2="728.6" stroke="#4b8a1e" stroke-width="2.6" stroke-linecap="butt"/>
<text x="1422.4" y="616.3" font-size="36" font-weight="bold" text-anchor="middle" fill="#4b8a1e" >O</text>
<text x="1553.5" y="662.4" font-size="36" font-weight="bold" text-anchor="middle" fill="#4b8a1e" >O</text>
<text x="1684.0" y="615.7" font-size="36" font-weight="bold" text-anchor="middle" fill="#4b8a1e" >O</text>
<text x="1719.0" y="725.5" font-size="36" font-weight="bold" text-anchor="middle" fill="#4b8a1e" >O</text>
<text x="1896.5" y="704.7" font-size="36" font-weight="bold" text-anchor="middle" fill="#4b8a1e" >O</text>
<path d="M1401.8,553.4 L1387.5,553.4 L1387.5,793.6 L1401.8,793.6" fill="none" stroke="#4b8a1e" stroke-width="2.6"/>
<path d="M1928.5,553.4 L1942.8,553.4 L1942.8,793.6 L1928.5,793.6" fill="none" stroke="#4b8a1e" stroke-width="2.6"/>
<text x="1972" y="819.6" font-size="42" font-weight="bold" text-anchor="start" fill="#4b8a1e" >n</text>
<line x1="456.0" y1="573.2" x2="529.9" y2="573.2" stroke="#222" stroke-width="2" stroke-linecap="butt"/>
<path d="M547.4,573.2 L523.4,563.6 Q528.9,573.2 523.4,582.8000000000001 Z" fill="#000"/>
<line x1="637.0" y1="507.4" x2="637.0" y2="365.0" stroke="#222" stroke-width="2" stroke-linecap="butt"/>
<path d="M637,347.5 L627.4,371.5 Q637,366.0 646.6,371.5 Z" fill="#000"/>
<line x1="639.3" y1="665.2" x2="639.3" y2="808.1" stroke="#222" stroke-width="2" stroke-linecap="butt"/>
<path d="M639.3,825.6 L629.6999999999999,801.6 Q639.3,807.1 648.9,801.6 Z" fill="#000"/>
<line x1="851.3" y1="193.3" x2="925.5" y2="193.3" stroke="#222" stroke-width="2" stroke-linecap="butt"/>
<path d="M943,193.3 L919,183.70000000000002 Q924.5,193.3 919,202.9 Z" fill="#000"/>
<line x1="1221.0" y1="345.3" x2="1221.0" y2="827.2" stroke="#222" stroke-width="2" stroke-linecap="butt"/>
<line x1="1221.0" y1="576.6" x2="1294.5" y2="576.6" stroke="#222" stroke-width="2" stroke-linecap="butt"/>
<path d="M1312,576.6 L1288,567.0 Q1293.5,576.6 1288,586.2 Z" fill="#000"/>
<line x1="735.5" y1="910.7" x2="808.5" y2="910.7" stroke="#222" stroke-width="2" stroke-linecap="butt"/>
<path d="M826,910.7 L802,901.1 Q807.5,910.7 802,920.3000000000001 Z" fill="#000"/>
<line x1="973.8" y1="910.7" x2="1047.5" y2="910.7" stroke="#222" stroke-width="2" stroke-linecap="butt"/>
<path d="M1065,910.7 L1041,901.1 Q1046.5,910.7 1041,920.3000000000001 Z" fill="#000"/>
<text x="637.7" y="73.6" font-size="41" font-weight="bold" text-anchor="middle" fill="#000" >HMF</text>
<text x="1233.5" y="69" font-size="41" font-weight="bold" text-anchor="middle" fill="#000" >Diester</text>
<text x="230.2" y="755.9" font-size="45" font-weight="bold" text-anchor="middle" fill="#000" >Cellulose</text>
<text x="1654.4" y="842.8" font-size="45" font-weight="bold" text-anchor="middle" fill="#000" >PEF</text>
<text x="575" y="594.3" font-size="41" font-weight="bold" text-anchor="start" fill="#000" >C<tspan font-size="27" dy="7">6</tspan><tspan dy="-7">-Zucker</tspan></text>
<text x="504.3" y="620.6" font-size="27" font-weight="normal" text-anchor="middle" fill="#000" >Hydrolyse</text>
<text x="650.5" y="447.3" font-size="27" font-weight="normal" text-anchor="start" fill="#000" >-H<tspan font-size="19" dy="6">2</tspan><tspan dy="-6">O</tspan></text>
<text x="834" y="234.8" font-size="27" font-weight="normal" text-anchor="start" fill="#000" >Oxidation</text>
<text x="834.5" y="264" font-size="27" font-weight="normal" text-anchor="start" fill="#000" >in MeOH</text>
<text x="746.5" y="960.6" font-size="27" font-weight="normal" text-anchor="start" fill="#000" >-H<tspan font-size="19" dy="6">2</tspan><tspan dy="-6">O</tspan></text>
<text x="963.3" y="960.6" font-size="27" font-weight="normal" text-anchor="start" fill="#000" >Oxidation</text>
<text x="0" y="0" font-size="27.2" font-weight="normal" text-anchor="middle" fill="#000" transform="translate(685.4,746.4) rotate(-90)">Fermentation</text>
<text x="0" y="0" font-size="27" font-weight="normal" text-anchor="middle" fill="#000" transform="translate(1190,578.5) rotate(-90)">Polymerisation</text>
</svg>
</body></html>
